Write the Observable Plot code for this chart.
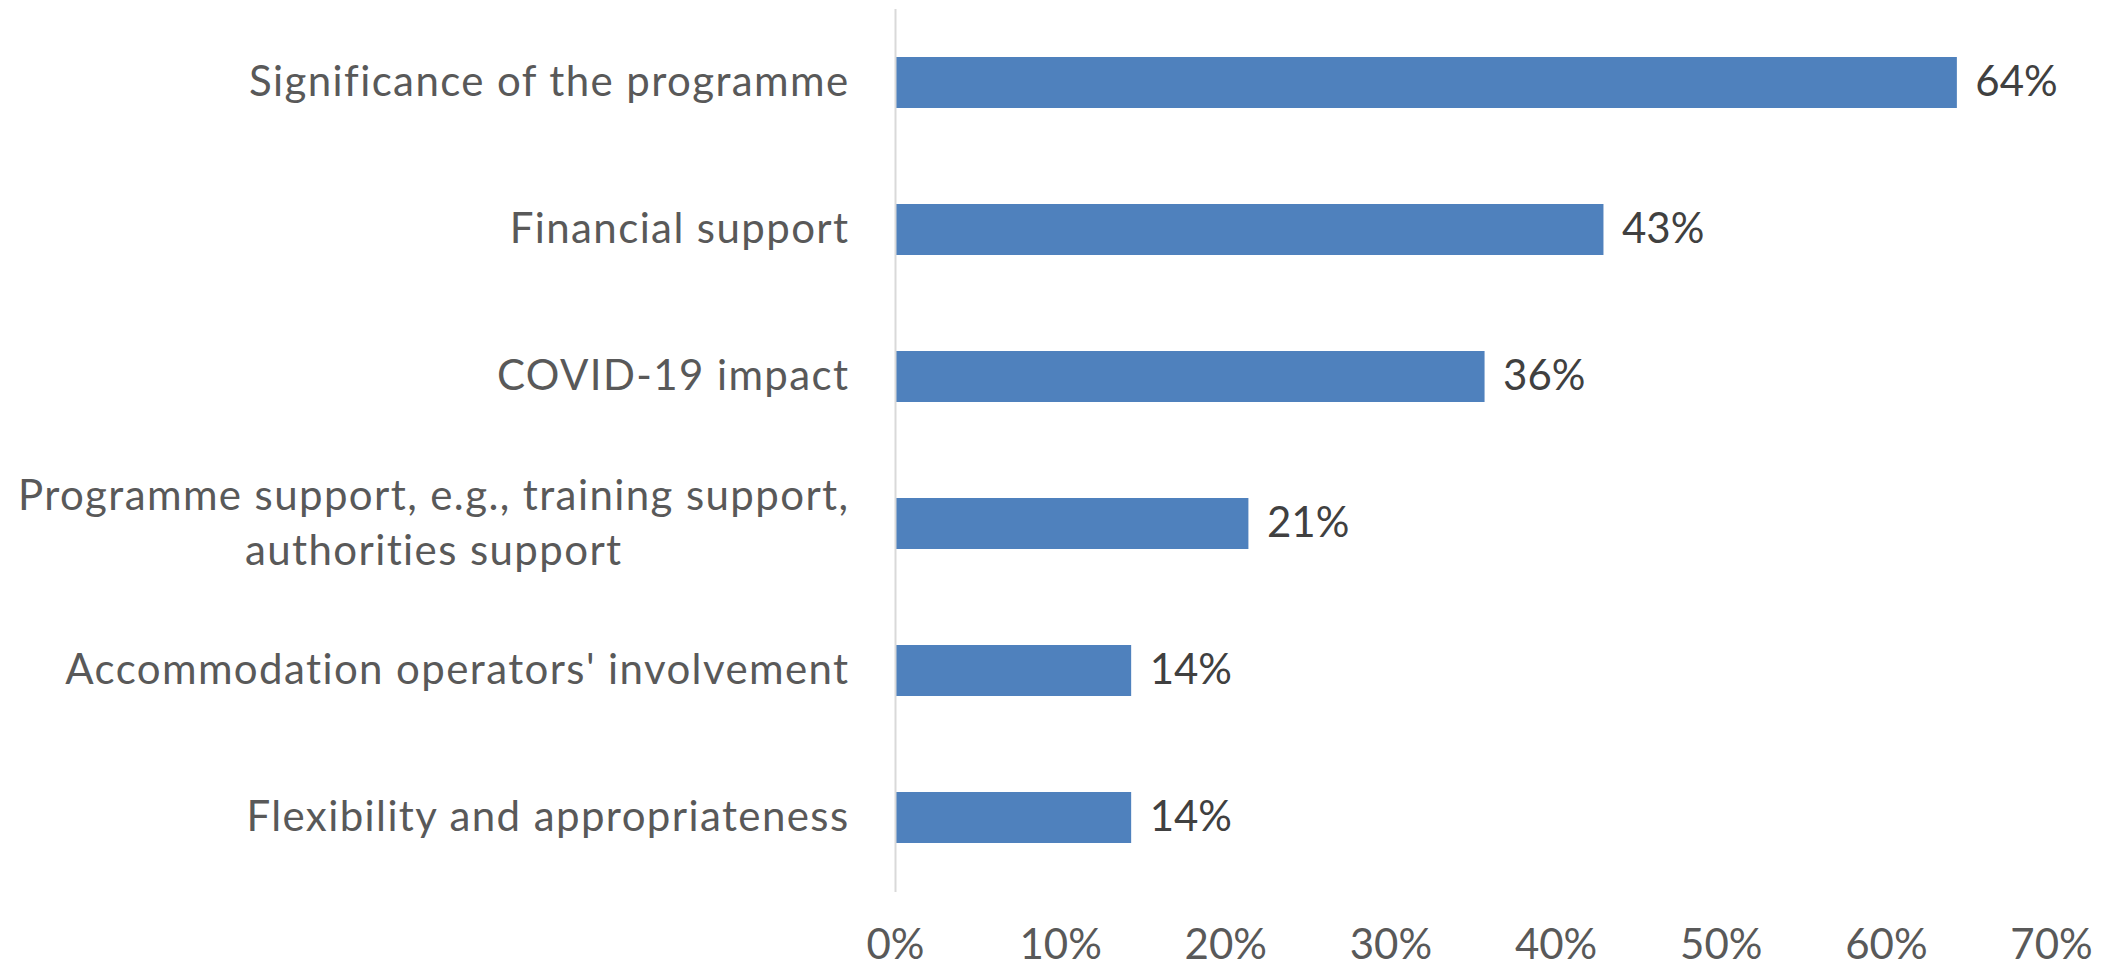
<!DOCTYPE html>
<html><head><meta charset="utf-8">
<script src="https://cdn.jsdelivr.net/npm/d3@7"></script>
<script src="https://cdn.jsdelivr.net/npm/@observablehq/plot@0.6"></script>
<style>html,body{margin:0;padding:0;background:#fff;overflow:hidden}#chart svg{display:block}</style>
</head><body><div id="chart"></div>
<script>
const categories = [
  "Significance of the programme",
  "Financial support",
  "COVID-19 impact",
  "Programme support, e.g., training support,\nauthorities support",
  "Accommodation operators' involvement",
  "Flexibility and appropriateness"
];
const values = [64.3, 42.9, 35.7, 21.4, 14.3, 14.3];
const valueLabels = ["64%", "43%", "36%", "21%", "14%", "14%"];
const xTicks = [0, 10, 20, 30, 40, 50, 60, 70];

const data = categories.map((c, i) => ({category: c, value: values[i], label: valueLabels[i]}));

const chart = Plot.plot({
  width: 2114, height: 967,
  marginTop: 9, marginBottom: 75, marginLeft: 895, marginRight: 63,
  style: {fontFamily: "Lato", fontSize: "42px", color: "#595959", background: "#fff"},
  x: {domain: [0, 70]},
  y: {domain: categories, paddingInner: 0.65, paddingOuter: 0.325},
  marks: [
    Plot.barX(data, {x: "value", y: "category", fill: "#4F81BD"}),
    Plot.ruleX([0], {stroke: "#d9d9d9", strokeWidth: 2}),
    Plot.text(data, {x: "value", y: "category", text: "label", textAnchor: "start", dx: 18, fontSize: 42, fill: "#404040"}),
    Plot.axisX({ticks: xTicks, tickFormat: d => d + "%", tickSize: 0, tickPadding: 37, fontSize: 42, label: null}),
    Plot.axisY({tickSize: 0, tickPadding: 46, fontSize: 42, label: null})
  ]
});
document.getElementById("chart").appendChild(chart);

// category labels: slightly wider spacing, and centred lines for multi-line labels
const lineHeight = 1.32;
chart.querySelectorAll("g[aria-label='y-axis tick label'] text").forEach(t => {
  t.style.letterSpacing = "1.4px";
  const spans = t.querySelectorAll("tspan");
  if (spans.length > 1) {
    const n = spans.length;
    t.removeAttribute("dy");
    t.removeAttribute("y");
    spans.forEach((s, i) => {
      s.removeAttribute("y");
      s.setAttribute("x", 0);
      s.setAttribute("dy", i === 0 ? `${0.32 - (n - 1) / 2 * lineHeight}em` : `${lineHeight}em`);
    });
    const w = t.getBBox().width;
    t.setAttribute("text-anchor", "middle");
    spans.forEach(s => s.setAttribute("x", -w / 2));
  }
});
</script>
</body></html>
